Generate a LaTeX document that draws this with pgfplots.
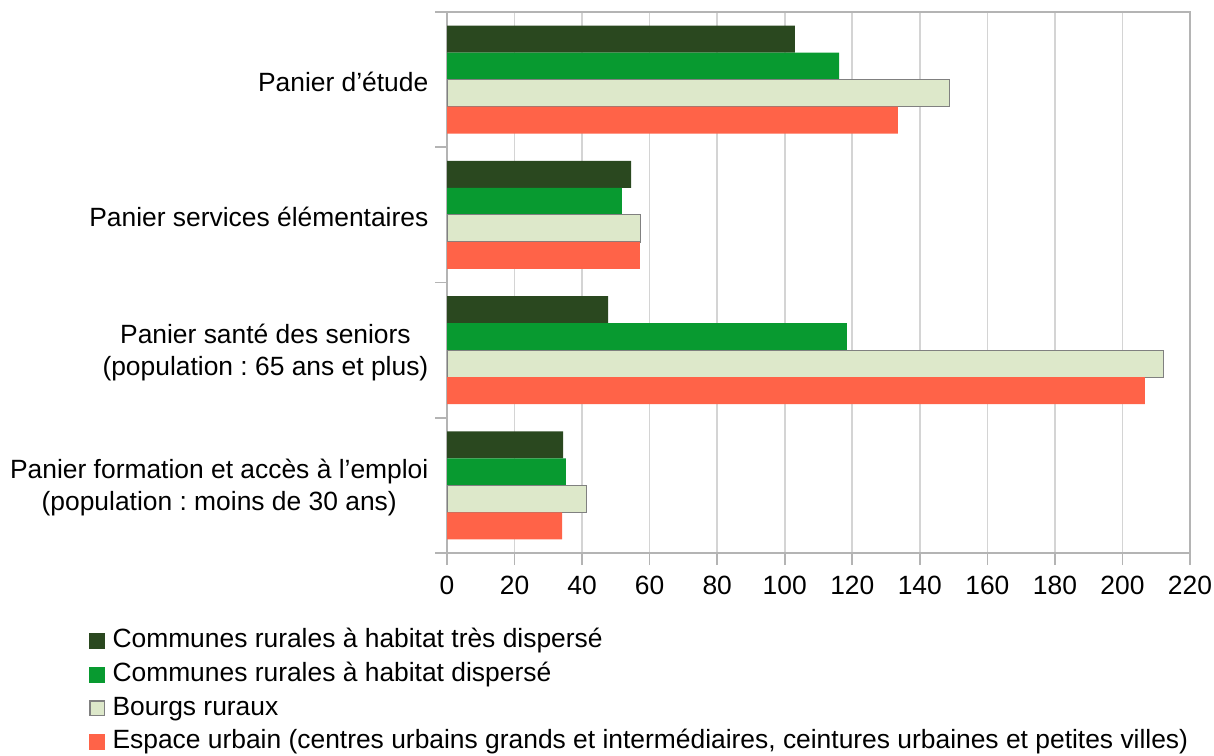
\documentclass[border=0pt]{standalone}
\usepackage{pgfplots}
\pgfplotsset{compat=1.18}
\usepackage{fontspec}
\setmainfont{Liberation Sans}
\frenchspacing
\definecolor{cdark}{RGB}{42,72,31}
\definecolor{cgreen}{RGB}{8,154,48}
\definecolor{clight}{RGB}{221,232,202}
\definecolor{cred}{RGB}{255,99,72}
\definecolor{cgrid}{RGB}{212,212,212}
\definecolor{caxis}{RGB}{180,180,180}
\begin{document}
\begin{tikzpicture}
\path[use as bounding box] (0pt,0pt) rectangle (607pt,-377.5pt);
\begin{axis}[
  at={(223.5pt,-276.5pt)}, anchor=south west,
  scale only axis, width=371.5pt, height=270.5pt,
  font=\fontsize{13.2}{16}\selectfont\frenchspacing,
  xbar, bar width=0.2,
  y dir=reverse,
  xmin=0, xmax=220, ymin=-0.5, ymax=3.5,
  xtick={0,20,...,220},
  minor xtick={0,20,...,220},
  xmajorgrids, grid style={cgrid, line width=0.8pt},
  axis line style={caxis, line width=0.8pt},
  major tick style={caxis, line width=0.8pt},
  minor tick style={caxis, line width=0.8pt},
  tick align=outside,
  major tick length=0pt,
  minor tick length=6pt,
  xticklabel style={yshift=-8pt},
  /pgf/number format/assume math mode=true,
  ytick={0,1,2,3},
  minor ytick={-0.5,0.5,1.5,2.5,3.5},
  yticklabels={Panier d’étude, Panier services élémentaires, {Panier santé des seniors\ \\(population : 65 ans et plus)}, {Panier formation et accès à l’emploi\\(population : moins de 30 ans)}},
  yticklabel style={align=center, xshift=-5.8pt, yshift=-1.2pt, font=\fontsize{13.2}{16}\selectfont\frenchspacing},
  xtick pos=bottom, ytick pos=left,
  legend style={at={(-0.49,-0.125)}, anchor=north west, draw=none, fill=none,
    font=\fontsize{13.2}{16}\selectfont\frenchspacing, row sep=0.7pt,
    nodes={text height=9.6pt, text depth=2.9pt, inner sep=1.8pt}},
  legend cell align=left,
]
\addplot[fill=cdark, draw=none, bar shift=-0.3,
  legend image code/.code={\fill[cdark] (0pt,-4pt) rectangle (8pt,4pt); \path (9.5pt,0pt);}]
  coordinates {(103.0,0) (54.5,1) (47.7,2) (34.4,3)};
\addplot[fill=cgreen, draw=none, bar shift=-0.1,
  legend image code/.code={\fill[cgreen] (0pt,-4pt) rectangle (8pt,4pt); \path (9.5pt,0pt);}]
  coordinates {(116.1,0) (51.8,1) (118.4,2) (35.2,3)};
\addplot[fill=clight, draw=gray, line width=0.6pt, bar shift=0.1,
  legend image code/.code={\draw[fill=clight, draw=gray, line width=0.6pt] (0.3pt,-3.7pt) rectangle (7.7pt,3.7pt); \path (9.5pt,0pt);}]
  coordinates {(148.7,0) (57.3,1) (212.1,2) (41.4,3)};
\addplot[fill=cred, draw=none, bar shift=0.3,
  legend image code/.code={\fill[cred] (0pt,-4pt) rectangle (8pt,4pt); \path (9.5pt,0pt);}]
  coordinates {(133.5,0) (57.1,1) (206.6,2) (34.1,3)};
\legend{Communes rurales à habitat très dispersé, Communes rurales à habitat dispersé, Bourgs ruraux, {Espace urbain (centres urbains grands et intermédiaires, ceintures urbaines et petites villes)}}
\end{axis}
\end{tikzpicture}
\end{document}
